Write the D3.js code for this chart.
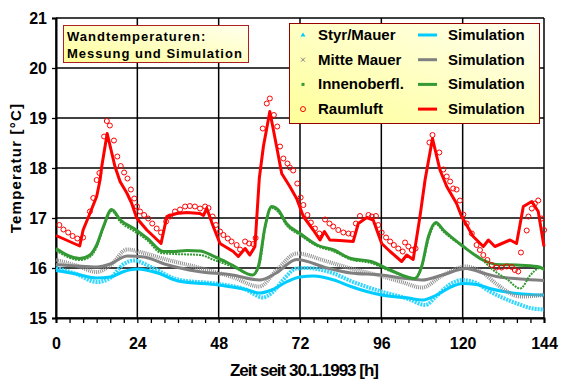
<!DOCTYPE html>
<html>
<head>
<meta charset="utf-8">
<script src="https://cdn.jsdelivr.net/npm/d3@7"></script>
<style>
  body { margin: 0; background: #fff; }
  text { font-family: Arial, "Liberation Sans", sans-serif; }
</style>
</head>
<body>
<svg id="chart" width="568" height="384"></svg>
<script>
// hours + values (knots of each curve)
var xTicks = [0, 24, 48, 72, 96, 120, 144];
var yTicks = [15, 16, 17, 18, 19, 20, 21];

var simCyanT = [0,6,12,16,20,24,30,36,48,56,60,64,68,72,76,82,87,96,104,108,112,116,120,124,128,132,136,140,144];
var simCyanV = [15.95,15.88,15.8,15.82,15.93,15.98,15.9,15.74,15.66,15.57,15.5,15.57,15.72,15.82,15.84,15.76,15.63,15.46,15.4,15.36,15.45,15.6,15.69,15.67,15.59,15.53,15.49,15.47,15.46];
var measCyanT = [0,6,12,16,20,23,28,36,48,56,61,64,67,71,74,82,87,96,104,109,112,116,120,124,128,132,136,140,144];
var measCyanV = [16.0,15.88,15.72,15.8,16.08,16.15,16.02,15.77,15.68,15.57,15.41,15.52,15.76,15.99,16.0,15.89,15.74,15.53,15.38,15.26,15.42,15.66,15.76,15.7,15.53,15.4,15.29,15.2,15.17];

var grayT = [0,6,12,16,21,26,32,42,52,60,65,71,80,87,96,102,108,114,121,126,130,137,144];
var simGrayV = [16.07,16.04,16.02,16.08,16.24,16.22,16.08,15.93,15.86,15.76,15.9,16.17,16.0,15.9,15.86,15.8,15.76,15.86,15.99,15.9,15.83,15.78,15.75];
var measGrayV = [16.16,16.05,15.92,16.05,16.37,16.3,16.18,16.01,15.82,15.63,15.95,16.29,16.13,15.99,15.84,15.72,15.61,15.85,16.03,15.9,15.68,15.43,15.46];

var simGreenT = [0,7,10,12,14,16.4,19,23,27,31.7,35,38.6,42.5,47,52,58,59.7,61.7,63.6,65.6,68,72,77,82,87,93,98.6,105.9,107.9,109.9,112.1,114.3,120.2,126,130,136,142,144];
var simGreenV = [16.39,16.19,16.26,16.46,16.83,17.17,16.96,16.79,16.59,16.33,16.33,16.35,16.34,16.22,16.06,15.86,16.03,16.83,17.23,17.16,16.89,16.69,16.46,16.36,16.19,16.13,15.96,15.79,16.03,16.63,16.91,16.76,16.43,16.16,16.07,16.06,16.03,15.98];
var measGreenT = [0,7,10,12,14,16.4,19,23,27,31,35,42.5,47,52,58,60,61.7,63.6,65.6,68,72,77,82,87,93,98.6,105.9,108,110,112.1,114.3,120.2,126,129,133,137,140,142.8,144];
var measGreenV = [16.35,16.16,16.22,16.42,16.8,17.14,16.92,16.74,16.55,16.3,16.28,16.26,16.15,16.03,15.86,16.05,16.8,17.2,17.12,16.86,16.66,16.44,16.33,16.17,16.1,15.94,15.8,16.05,16.6,16.88,16.73,16.42,16.15,15.96,15.78,15.59,15.86,16.0,15.95];

var simRedT = [0,7,8,10,12,13,13.5,15.1,17.4,18.9,20.9,22.3,23.8,26.8,31,32.7,35.6,38.6,42.5,43.5,44.5,46.4,48.4,52.3,53.8,55.8,57.2,58.7,60,61.2,63.1,65.1,66.6,69,71,73,75.9,77.9,79.2,80.8,83.8,87.7,89.2,91.7,93.6,96.1,98.6,102,103.5,105.4,107.4,108.9,111.1,113.3,115.3,118.2,119.7,123.1,126.1,127.6,129.5,134,135.9,137.9,140.4,142.3,144];
var simRedV = [16.65,16.44,16.76,17.09,17.43,17.76,18.03,18.69,18.03,17.73,17.5,17.3,17.0,16.76,16.49,17.03,17.09,17.11,17.09,17.05,17.19,16.83,16.49,16.33,16.23,16.39,16.26,16.43,17.8,18.43,19.13,18.43,17.89,17.63,17.39,17.03,16.76,16.56,16.73,16.56,16.55,16.53,16.89,17.01,16.96,16.49,16.33,16.13,16.26,16.17,17.03,17.76,18.59,17.96,17.63,17.29,17.03,16.63,16.43,16.56,16.43,16.56,16.49,17.23,17.33,17.13,16.43];

var measRedT = [1,2.2,3.6,4.9,6.3,8,10,11,12,12.8,14.2,15,15.9,17.1,18.1,19.1,20.1,21.1,22.1,23.1,23.9,24.8,26,27.2,28.4,29.7,31,32.5,33.6,35.1,36.6,38.1,39.5,41,42.5,44,45,46.2,47.2,48.4,49.4,50.7,51.8,53.3,54.3,55.8,57,58.2,58.9,61,62.2,63.1,64.3,65.3,66.1,67.1,68.3,69,70,71.2,72.2,73,74.2,75.2,76.4,77.7,79.4,80.7,81.8,83.3,84.8,86.3,87.5,88.5,89.7,92.2,93.2,94.4,95.1,96.1,97.4,98.6,99.7,101,102.3,103,104,105,106.1,110.2,111.1,113.1,114.3,115.3,116.3,117.2,118.2,119.2,120.2,121.2,122.7,124.1,125.1,126.1,127.3,128.6,130,131.5,133,134.5,135.4,136.4,137.2,138.9,139.4,140.4,141.3,142.3,143.3,144];
var measRedV = [16.86,16.77,16.71,16.64,16.59,16.61,17.13,17.4,17.76,17.9,18.63,18.94,18.85,18.55,18.23,18.04,17.91,17.79,17.57,17.39,17.23,17.13,17.06,16.99,16.89,16.79,16.71,16.93,17.03,17.13,17.17,17.23,17.24,17.23,17.19,17.23,17.2,17.03,16.86,16.73,16.66,16.59,16.53,16.46,16.37,16.53,16.49,16.48,16.6,18.79,19.29,19.39,19.06,18.83,18.43,18.19,18.09,18.01,17.95,17.69,17.41,17.26,17.06,16.91,16.79,16.69,16.97,16.89,16.83,16.76,16.71,16.69,16.68,16.89,17.04,17.06,17.03,17.04,16.86,16.71,16.61,16.53,16.46,16.39,16.33,16.51,16.43,16.36,16.39,18.51,18.66,18.31,17.97,17.83,17.73,17.59,17.57,17.35,17.07,16.89,16.69,16.46,16.36,16.26,16.16,16.06,16.01,16.01,16.03,16.02,15.96,15.93,16.31,16.75,17.03,17.19,17.29,17.35,16.99,16.76];

var legendLabels = ["Styr/Mauer", "Mitte Mauer", "Innenoberfl.", "Raumluft"];
var legendColors = ["#00ccff", "#808080", "#339933", "#ff0000"];

var svg = d3.select("#chart");

var x = d3.scaleLinear().domain([0, 144]).range([56, 544]);
var y = d3.scaleLinear().domain([15, 21]).range([318, 18]);

// gradients for the two boxes
var defs = svg.append("defs");
var grad = defs.append("linearGradient").attr("id", "yel")
  .attr("x1", "0").attr("y1", "1").attr("x2", "1").attr("y2", "0");
grad.append("stop").attr("offset", "0").attr("stop-color", "#ffff99");
grad.append("stop").attr("offset", "1").attr("stop-color", "#ffffee");

// grid
svg.append("g").selectAll("line").data(xTicks).enter().append("line")
  .attr("x1", d => x(d)).attr("x2", d => x(d))
  .attr("y1", y(21)).attr("y2", y(15))
  .attr("stroke", "#000").attr("stroke-width", 1.5);
svg.append("g").selectAll("line").data(yTicks).enter().append("line")
  .attr("x1", x(0)).attr("x2", x(144))
  .attr("y1", d => y(d)).attr("y2", d => y(d))
  .attr("stroke", "#000").attr("stroke-width", 1.5);

// axes
var xMinor = d3.axisBottom(x).tickValues(d3.range(0, 145, 4)).tickSize(5).tickFormat("");
svg.append("g").attr("transform", "translate(0," + y(15) + ")").call(xMinor)
  .call(g => g.select(".domain").attr("stroke-width", 2))
  .selectAll("line").attr("stroke-width", 1.3);

var xAxis = d3.axisBottom(x).tickValues(xTicks).tickSize(0).tickPadding(20);
svg.append("g").attr("transform", "translate(0," + y(15) + ")").call(xAxis)
  .call(g => g.select(".domain").remove())
  .selectAll("text").attr("font-size", 16).attr("font-weight", "bold")
  .attr("font-family", "Arial, 'Liberation Sans', sans-serif").attr("fill", "#000");

var yAxis = d3.axisLeft(y).tickValues(yTicks).tickSize(4).tickPadding(5).tickFormat(d3.format("d"));
svg.append("g").attr("transform", "translate(" + x(0) + ",0)").call(yAxis)
  .call(g => g.select(".domain").attr("stroke-width", 2))
  .call(g => g.selectAll("line").attr("stroke-width", 1.3))
  .selectAll("text").attr("font-size", 16).attr("font-weight", "bold")
  .attr("font-family", "Arial, 'Liberation Sans', sans-serif").attr("fill", "#000");

// axis titles
svg.append("text").attr("transform", "translate(21,168) rotate(-90)")
  .attr("text-anchor", "middle").attr("font-size", 15).attr("font-weight", "bold")
  .attr("letter-spacing", 1.2).text("Temperatur [°C]");
svg.append("text").attr("x", 304).attr("y", 376)
  .attr("text-anchor", "middle").attr("font-size", 17).attr("font-weight", "bold")
  .attr("letter-spacing", -1).text("Zeit seit 30.1.1993  [h]");

var lineSmooth = d3.line().x(d => x(d[0])).y(d => y(d[1])).curve(d3.curveMonotoneX);
var lineSharp = d3.line().x(d => x(d[0])).y(d => y(d[1]));

// measured bands (dense markers) + simulations
function band(t, v, col, w, dash) {
  svg.append("path").datum(d3.zip(t, v)).attr("d", lineSmooth)
    .attr("fill", "none").attr("stroke", col).attr("stroke-width", w)
    .attr("stroke-dasharray", dash);
}
function sim(t, v, col, gen) {
  svg.append("path").datum(d3.zip(t, v)).attr("d", gen)
    .attr("fill", "none").attr("stroke", col).attr("stroke-width", 3)
    .attr("stroke-linejoin", "round");
}

band(measCyanT, measCyanV, "#33d6ff", 4, "2 1");
sim(simCyanT, simCyanV, "#00ccff", lineSmooth);
band(grayT, measGrayV, "#909090", 4, "1 1");
sim(grayT, simGrayV, "#808080", lineSmooth);
band(measGreenT, measGreenV, "#339933", 2, "2 1");
sim(simGreenT, simGreenV, "#339933", lineSmooth);
sim(simRedT, simRedV, "#ff0000", lineSharp);

svg.append("g").selectAll("circle").data(d3.zip(measRedT, measRedV)).enter()
  .append("circle")
  .attr("cx", d => x(d[0])).attr("cy", d => y(d[1])).attr("r", 2.5)
  .attr("fill", "none").attr("stroke", "#ff0000").attr("stroke-width", 1);

// title box
svg.append("rect").attr("x", 63.5).attr("y", 25.5).attr("width", 185).attr("height", 37)
  .attr("fill", "url(#yel)").attr("stroke", "#b02020").attr("stroke-width", 1);
svg.append("text").attr("x", 67).attr("y", 41).attr("font-size", 13).attr("font-weight", "bold")
  .attr("letter-spacing", 1).text("Wandtemperaturen:");
svg.append("text").attr("x", 67).attr("y", 58).attr("font-size", 13).attr("font-weight", "bold")
  .attr("letter-spacing", 1).text("Messung und Simulation");

// legend
svg.append("rect").attr("x", 289.5).attr("y", 23.5).attr("width", 250).attr("height", 100)
  .attr("fill", "url(#yel)").attr("stroke", "#990000").attr("stroke-width", 1);
var lg = svg.append("g").selectAll("g").data(legendLabels).enter().append("g")
  .attr("transform", (d, i) => "translate(0," + (35 + i * 24.7) + ")");
lg.append("text").attr("x", 318).attr("y", 5).attr("font-size", 15).attr("font-weight", "bold")
  .text(d => d);
lg.append("line").attr("x1", 418).attr("x2", 437).attr("y1", 0).attr("y2", 0)
  .attr("stroke", (d, i) => legendColors[i]).attr("stroke-width", 3);
lg.append("text").attr("x", 448).attr("y", 5).attr("font-size", 15).attr("font-weight", "bold")
  .text("Simulation");
lg.filter((d, i) => i === 0).append("path").attr("d", "M303,-2.5 L305.5,1.5 L300.5,1.5 Z")
  .attr("fill", "#00ccff");
lg.filter((d, i) => i === 1).append("path").attr("d", "M301,-2 L305,2 M305,-2 L301,2")
  .attr("stroke", "#808080").attr("stroke-width", 1);
lg.filter((d, i) => i === 2).append("rect").attr("x", 301.5).attr("y", -1.5)
  .attr("width", 3).attr("height", 3).attr("fill", "#339933");
lg.filter((d, i) => i === 3).append("circle").attr("cx", 303).attr("cy", 0).attr("r", 2.5)
  .attr("fill", "none").attr("stroke", "#ff0000");
</script>
</body>
</html>
